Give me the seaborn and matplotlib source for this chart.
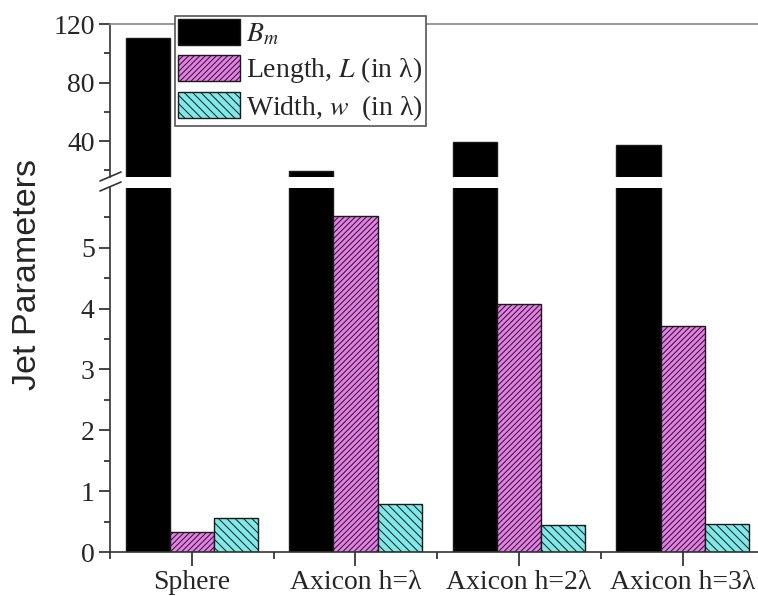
import matplotlib
matplotlib.use("Agg")
import matplotlib.pyplot as plt
from matplotlib.lines import Line2D
from matplotlib.patches import Patch
from matplotlib.ticker import MultipleLocator
import pandas as pd
import seaborn as sns

# values
configs = ["Sphere", "Axicon h=λ", "Axicon h=2λ", "Axicon h=3λ"]
b_m = [110.4, 19.5, 39.0, 37.4]
length_l = [0.33, 5.52, 4.07, 3.72]
width_w = [0.565, 0.79, 0.445, 0.456]
series_labels = ["$B_m$", "Length, $L$ (in λ)", "Width, $w$  (in λ)"]

colors = ["#000000", "#E87CE8", "#7FE8E8"]
hatches = [None, "/" * 6, "\\" * 4]

df = pd.DataFrame({
    "config": configs * 3,
    "param": [series_labels[0]] * 4 + [series_labels[1]] * 4 + [series_labels[2]] * 4,
    "value": b_m + length_l + width_w,
})

sns.set_style("ticks")
plt.rcParams["font.family"] = ["Liberation Serif", "DejaVu Serif"]
plt.rcParams["mathtext.fontset"] = "stix"
plt.rcParams["hatch.linewidth"] = 0.7
plt.rcParams["hatch.color"] = "#1a1a1a"

W, H = 758, 596
fig = plt.figure(figsize=(W / 100, H / 100), dpi=100)
ax_top = fig.add_axes([0.1451, 0.703, 0.8635, 0.2567])
ax_bot = fig.add_axes([0.1451, 0.0738, 0.8635, 0.6107])

for ax in (ax_top, ax_bot):
    sns.barplot(data=df, x="config", y="value", hue="param", palette=colors,
                width=0.81, edgecolor="#1a1a1a", linewidth=1, ax=ax,
                legend=False, saturation=1)
    for cont, h in zip(ax.containers, hatches):
        if h:
            for bar in cont:
                bar.set_hatch(h)
    ax.set_xlim(-0.5, 3.5)
    ax.set_xlabel("")
    ax.set_ylabel("")
    ax.spines["right"].set_visible(False)
    for side in ("left", "top", "bottom"):
        ax.spines[side].set_linewidth(1.2)
        ax.spines[side].set_color("#333333")
    ax.tick_params(axis="y", which="major", direction="out", length=8, width=1.2,
                   labelsize=20, pad=3)
    ax.tick_params(axis="y", which="minor", direction="out", length=4.5, width=1.2)

# top panel: broken-off upper range
ax_top.set_ylim(15.4, 120)
ax_top.yaxis.set_major_locator(MultipleLocator(40))
ax_top.yaxis.set_minor_locator(MultipleLocator(20))
ax_top.spines["bottom"].set_visible(False)
ax_top.spines["top"].set_color("#888888")
ax_top.tick_params(axis="x", which="both", bottom=False, labelbottom=False)

# bottom panel
ax_bot.set_ylim(0, 5.98)
ax_bot.yaxis.set_major_locator(MultipleLocator(1))
ax_bot.yaxis.set_minor_locator(MultipleLocator(0.5))
ax_bot.spines["top"].set_visible(False)
ax_bot.set_xticks(range(len(configs)))
ax_bot.set_xticklabels(configs)
ax_bot.xaxis.set_minor_locator(MultipleLocator(1, offset=0.5))
ax_bot.tick_params(axis="x", which="major", direction="out", length=10, width=1.2,
                   labelsize=20, pad=3)
ax_bot.tick_params(axis="x", which="minor", direction="out", length=5, width=1.2)

# "//" break marks across the left spine
for dy in (0, 10):
    fig.add_artist(Line2D([100 / W, 121 / W], [1 - (181 + dy) / H, 1 - (172 + dy) / H],
                          transform=fig.transFigure, color="#333333", lw=1.2))

fig.text(28 / W, 1 - 274 / H, "Jet Parameters", rotation=90, ha="center",
         va="center", fontsize=24.5, family="Liberation Sans")

handles = [Patch(facecolor=c, edgecolor="#1a1a1a", hatch=h, linewidth=1)
           for c, h in zip(colors, hatches)]
leg = fig.legend(handles, series_labels, loc="upper left",
                 bbox_to_anchor=(175 / W, 1 - 15.7 / H), borderaxespad=0,
                 fontsize=20, handlelength=2.23, handleheight=1.08,
                 handletextpad=0.2, labelspacing=0.25, borderpad=0.12,
                 fancybox=False, framealpha=1, edgecolor="#555555")
leg.get_frame().set_linewidth(1.2)

fig.savefig("out.png", dpi=100)
